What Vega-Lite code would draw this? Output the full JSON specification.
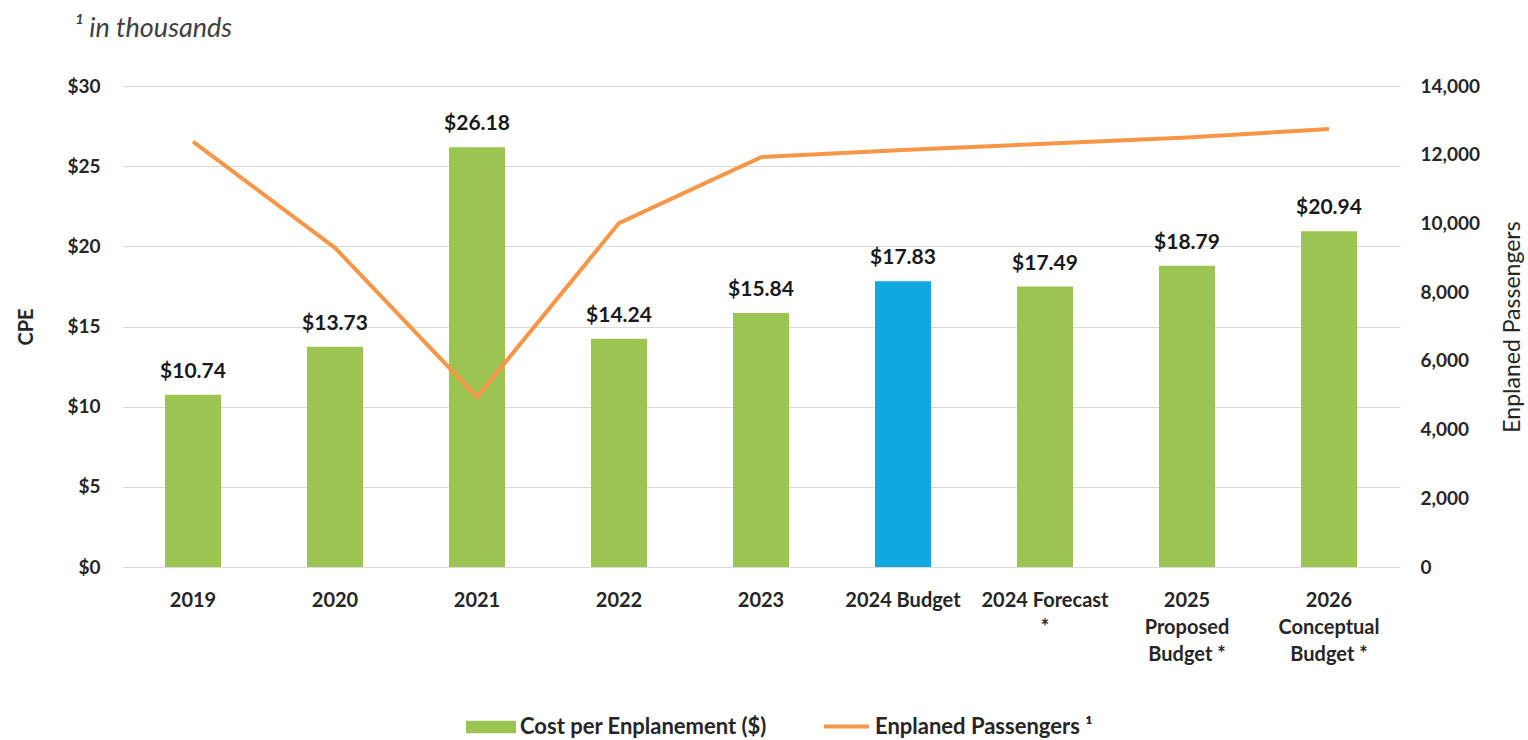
{
  "$schema": "https://vega.github.io/schema/vega-lite/v6.json",
  "width": 1278,
  "height": 481,
  "autosize": "none",
  "padding": {"left": 122, "top": 86, "right": 128, "bottom": 173},
  "background": "white",
  "title": {"text": "¹ in thousands", "anchor": "start", "frame": "group", "dx": -48, "offset": 34, "fontStyle": "italic", "fontWeight": "normal", "fontSize": 27, "font": "Lato", "color": "#404040"},
  "config": {"view": {"stroke": null}, "font": "Lato"},
  "data": {"values": [
    {"cat": "2019", "cpe": 10.74, "pax": 12380},
    {"cat": "2020", "cpe": 13.73, "pax": 9290},
    {"cat": "2021", "cpe": 26.18, "pax": 4950},
    {"cat": "2022", "cpe": 14.24, "pax": 10010},
    {"cat": "2023", "cpe": 15.84, "pax": 11930},
    {"cat": "2024 Budget", "cpe": 17.83, "pax": 12140},
    {"cat": "2024 Forecast|*", "cpe": 17.49, "pax": 12320},
    {"cat": "2025|Proposed|Budget *", "cpe": 18.79, "pax": 12500},
    {"cat": "2026|Conceptual|Budget *", "cpe": 20.94, "pax": 12750}
  ]},
  "encoding": {
    "x": {"field": "cat", "type": "nominal", "sort": null, "title": null,
      "scale": {"paddingInner": 0, "paddingOuter": 0},
      "axis": {"labelExpr": "split(datum.label, '|')", "labelAngle": 0, "domain": false, "ticks": false, "labelPadding": 23, "labelFontSize": 20, "labelFontWeight": "bold", "labelColor": "#262626", "labelLineHeight": 27, "labelBaseline": "top", "labelLimit": 300}}
  },
  "layer": [
    {
      "encoding": {
        "y": {"field": "cpe", "type": "quantitative", "title": "CPE",
          "scale": {"domain": [0, 30]},
          "axis": {"values": [0, 5, 10, 15, 20, 25, 30], "labelExpr": "'$' + datum.value", "domain": false, "ticks": false, "grid": true, "gridColor": "#d9d9d9", "gridWidth": 1, "labelPadding": 22, "labelFontSize": 19, "labelFontWeight": "bold", "labelColor": "#262626", "titleFontSize": 20, "titleFontWeight": "bold", "titleColor": "#262626", "titlePadding": 30}}
      },
      "layer": [
        {
          "mark": {"type": "bar", "size": 56},
          "encoding": {
            "fill": {"datum": "Cost per Enplanement ($)", "type": "nominal",
              "scale": {"range": ["#9CC453"]},
              "condition": {"test": "datum.cat === '2024 Budget'", "value": "#10A8DE"},
              "legend": {"orient": "none", "legendX": 344, "legendY": 616, "title": null, "padding": 0, "symbolType": "M-1,-0.25H1V0.25H-1Z", "symbolSize": 2500, "symbolStrokeWidth": 0, "labelFontSize": 22, "labelFontWeight": "bold", "labelColor": "#262626", "labelOffset": 4, "labelLimit": 400}}
          }
        },
        {
          "mark": {"type": "text", "baseline": "bottom", "dy": -13, "fontSize": 21, "fontWeight": "bold", "color": "#1a1a1a"},
          "encoding": {"text": {"field": "cpe", "type": "quantitative", "format": "$.2f"}}
        }
      ]
    },
    {
      "mark": {"type": "line", "strokeWidth": 4},
      "encoding": {
        "y": {"field": "pax", "type": "quantitative", "title": "Enplaned Passengers",
          "scale": {"domain": [0, 14000]},
          "axis": {"orient": "right", "values": [0, 2000, 4000, 6000, 8000, 10000, 12000, 14000], "format": ",.0f", "domain": false, "ticks": false, "grid": false, "labelPadding": 20, "labelFontSize": 19, "labelFontWeight": "bold", "labelColor": "#262626", "titleFontSize": 23, "titleFontWeight": "normal", "titleColor": "#262626", "titleAngle": 270, "titleBaseline": "top", "titlePadding": 22}},
        "stroke": {"datum": "Enplaned Passengers ¹", "type": "nominal",
          "scale": {"range": ["#F79646"]},
          "legend": {"orient": "none", "legendX": 700, "legendY": 616, "title": null, "padding": 0, "symbolType": "stroke", "symbolSize": 2000, "symbolStrokeWidth": 4, "labelFontSize": 22, "labelFontWeight": "bold", "labelColor": "#262626", "labelOffset": 4, "labelLimit": 400}}
      }
    }
  ],
  "resolve": {"scale": {"y": "independent"}}
}
